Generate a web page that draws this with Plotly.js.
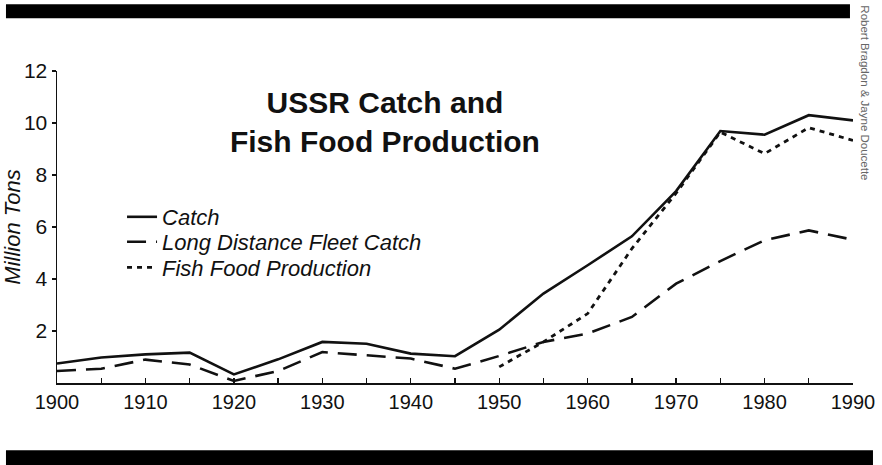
<!DOCTYPE html>
<html>
<head>
<meta charset="utf-8">
<script src="https://cdn.plot.ly/plotly-3.0.1.min.js"></script>
<style>html,body{margin:0;padding:0;background:#fff;}#chart{width:882px;height:465px;}</style>
</head>
<body>
<div id="chart"></div>
<script>
// ---- data ----
var years = [1900,1905,1910,1915,1920,1925,1930,1935,1940,1945,1950,1955,1960,1965,1970,1975,1980,1985,1990];
var catchValues = [0.75,0.98,1.10,1.17,0.33,0.91,1.58,1.51,1.13,1.03,2.05,3.44,4.53,5.64,7.38,9.69,9.55,10.30,10.10];
var longDistanceValues = [0.46,0.55,0.90,0.71,0.08,0.46,1.19,1.07,0.94,0.55,1.04,1.58,1.90,2.54,3.82,4.69,5.49,5.87,5.51];
var fishFoodYears = [1950,1955,1960,1965,1970,1975,1980,1985,1990];
var fishFoodValues = [0.62,1.58,2.67,5.17,7.30,9.65,8.82,9.82,9.33];
var seriesNames = ["Catch","Long Distance Fleet Catch","Fish Food Production"];
var xTickVals = [1900,1905,1910,1915,1920,1925,1930,1935,1940,1945,1950,1955,1960,1965,1970,1975,1980,1985,1990];
var xTickText = ["1900","","1910","","1920","","1930","","1940","","1950","","1960","","1970","","1980","","1990"];
var yTickVals = [2,4,6,8,10,12];
var titleText = "USSR Catch and<br>Fish Food Production";
var yTitle = "Million Tons";
var credit = "Robert Bragdon &amp; Jayne Doucette";

var FONT = "Liberation Sans, Arial, Helvetica, sans-serif";
var INK = "#111";

var traces = [
  {x: years, y: catchValues, name: seriesNames[0], mode: "lines", legend: "legend",
   line: {color: INK, width: 2.6}},
  {x: years, y: longDistanceValues, name: seriesNames[1], mode: "lines", legend: "legend2",
   line: {color: INK, width: 2.6, dash: "19px,10px"}},
  {x: fishFoodYears, y: fishFoodValues, name: seriesNames[2], mode: "lines", legend: "legend3",
   line: {color: INK, width: 2.8, dash: "5px,5px"}}
];

function legendAt(y) {
  return {x: 0.0817, xanchor: "left", y: y, yanchor: "middle", bgcolor: "rgba(0,0,0,0)",
          borderwidth: 0, font: {family: FONT, size: 22, style: "italic", color: INK},
          itemclick: false, itemdoubleclick: false};
}

var layout = {
  width: 882, height: 465,
  margin: {l: 57, r: 29, t: 71, b: 82},
  paper_bgcolor: "#fff", plot_bgcolor: "#fff",
  showlegend: true,
  legend: legendAt(0.532),
  legend2: legendAt(0.452),
  legend3: legendAt(0.370),
  title: {text: titleText, x: 0.412, xref: "paper", xanchor: "center",
          y: 0.866, yref: "paper", yanchor: "middle",
          font: {family: FONT, size: 30, weight: "bold", color: INK}},
  xaxis: {range: [1900, 1990], showgrid: false, zeroline: false,
          showline: true, linecolor: INK, linewidth: 1.5,
          tickmode: "array", tickvals: xTickVals, ticktext: xTickText,
          ticks: "inside", ticklen: 5, tickwidth: 1.3, tickcolor: INK,
          tickfont: {family: FONT, size: 20, color: INK}},
  yaxis: {range: [0, 12], showgrid: false, zeroline: false,
          showline: true, linecolor: INK, linewidth: 1.5,
          tickmode: "array", tickvals: yTickVals,
          ticks: "outside", ticklen: 4, tickwidth: 1.3, tickcolor: INK,
          tickfont: {family: FONT, size: 21, color: INK},
          title: {text: yTitle, standoff: 3, font: {family: FONT, size: 22, style: "italic", color: INK}}},
  shapes: [
    {type: "rect", xref: "paper", yref: "paper", x0: -0.0641, x1: 0.9962, y0: 1.1689, y1: 1.2138,
     fillcolor: "#000", line: {width: 0}, layer: "above"},
    {type: "rect", xref: "paper", yref: "paper", x0: -0.0641, x1: 1.0251, y0: -0.2638, y1: -0.2157,
     fillcolor: "#000", line: {width: 0}, layer: "above"}
  ],
  annotations: [
    {text: credit, textangle: 90, xref: "paper", yref: "paper", x: 1.0157, y: 0.930,
     xanchor: "center", yanchor: "middle", showarrow: false,
     font: {family: FONT, size: 11.5, color: "#666"}}
  ]
};

Plotly.newPlot("chart", traces, layout, {displayModeBar: false, staticPlot: true});
</script>
</body>
</html>
